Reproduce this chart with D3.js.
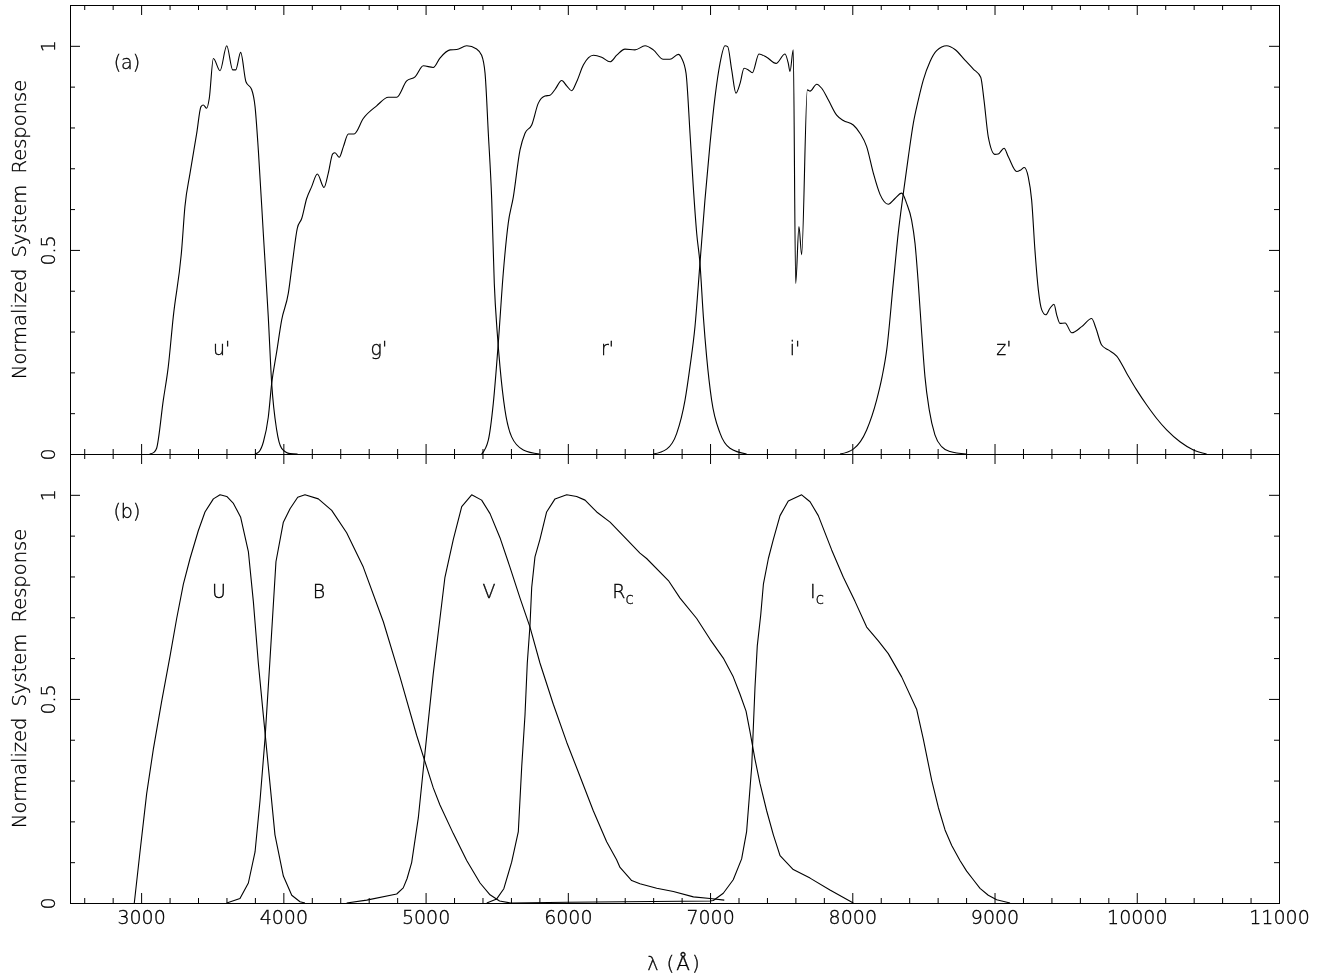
<!DOCTYPE html>
<html>
<head>
<meta charset="utf-8">
<script src="https://cdn.jsdelivr.net/npm/d3@7"></script>
<style>
  html, body { margin: 0; padding: 0; background: #fff; }
  svg { display: block; filter: grayscale(100%); }
  text { font-family: "DejaVu Sans", sans-serif; font-weight: 200; fill: #000; stroke: #000; stroke-width: 0.35px; }
</style>
</head>
<body>
<svg id="chart" width="1343" height="979"></svg>
<script>
// ---------------- data ----------------
const xTickLabels = [3000, 4000, 5000, 6000, 7000, 8000, 9000, 10000, 11000];
const yTickLabels = [0, 0.5, 1];
const panelLabels = ["(a)", "(b)"];
const yAxisTitle = "Normalized System Response";

// panel (a): SDSS u' g' r' i' z'   [wavelength Å, normalized response]
const uPrime = [[3060,0],[3090,0.004],[3109,0.014],[3156,0.132],[3191,0.214],[3226,0.336],[3285,0.5],[3308,0.606],[3344,0.688],[3391,0.786],[3421,0.851],[3437,0.855],[3461,0.847],[3479,0.871],[3508,0.969],[3555,0.939],[3602,1.0],[3644,0.941],[3665,0.941],[3700,0.984],[3737,0.912],[3777,0.893],[3801,0.851],[3824,0.745],[3859,0.541],[3894,0.336],[3918,0.173],[3953,0.059],[3988,0.014],[4047,0.001],[4100,0]];
const gPrime = [[3800,0],[3830,0.006],[3860,0.03],[3894,0.09],[3918,0.173],[3953,0.25],[3988,0.328],[4035,0.394],[4066,0.475],[4098,0.553],[4129,0.577],[4164,0.626],[4199,0.655],[4239,0.686],[4286,0.653],[4316,0.688],[4347,0.735],[4363,0.738],[4393,0.727],[4422,0.753],[4457,0.784],[4497,0.784],[4562,0.822],[4656,0.853],[4738,0.874],[4797,0.874],[4867,0.914],[4926,0.924],[4984,0.951],[5054,0.947],[5101,0.97],[5172,0.99],[5219,0.991],[5289,1.0],[5359,0.992],[5394,0.977],[5418,0.933],[5441,0.786],[5465,0.622],[5483,0.418],[5504,0.296],[5523,0.214],[5558,0.108],[5605,0.042],[5687,0.01],[5800,0]];
const rPrime = [[5394,0],[5441,0.034],[5476,0.124],[5511,0.271],[5546,0.443],[5581,0.565],[5617,0.63],[5664,0.745],[5699,0.786],[5746,0.806],[5792,0.859],[5839,0.877],[5875,0.879],[5910,0.893],[5957,0.915],[5992,0.902],[6027,0.89],[6062,0.912],[6109,0.953],[6180,0.977],[6238,0.972],[6297,0.961],[6344,0.977],[6402,0.992],[6472,0.99],[6543,1.0],[6601,0.99],[6671,0.967],[6718,0.967],[6777,0.979],[6801,0.969],[6831,0.933],[6859,0.786],[6882,0.655],[6906,0.541],[6929,0.467],[6953,0.336],[6976,0.238],[7011,0.132],[7070,0.051],[7140,0.014],[7257,0]];
const iPrime = [[6601,0],[6695,0.012],[6765,0.05],[6824,0.132],[6859,0.214],[6894,0.312],[6929,0.467],[6964,0.622],[7000,0.761],[7035,0.875],[7070,0.957],[7105,1.0],[7124,0.998],[7152,0.941],[7182,0.884],[7211,0.908],[7239,0.945],[7269,0.941],[7297,0.934],[7344,0.98],[7398,0.972],[7464,0.957],[7527,0.98],[7550,0.957],[7562,0.937],[7585,0.99],[7602,0.418],[7625,0.557],[7644,0.488],[7684,0.892],[7703,0.889],[7750,0.906],[7785,0.896],[7832,0.867],[7890,0.83],[7937,0.817],[8007,0.806],[8054,0.786],[8101,0.753],[8148,0.688],[8195,0.636],[8253,0.612],[8300,0.626],[8347,0.639],[8382,0.614],[8417,0.573],[8441,0.516],[8464,0.418],[8488,0.296],[8511,0.189],[8541,0.108],[8581,0.047],[8628,0.018],[8687,0.006],[8800,0]];
const zPrime = [[7914,0],[8007,0.012],[8101,0.059],[8171,0.132],[8210,0.19],[8242,0.255],[8288,0.418],[8323,0.541],[8359,0.639],[8394,0.728],[8429,0.81],[8464,0.867],[8499,0.916],[8546,0.961],[8593,0.988],[8664,1.0],[8722,0.991],[8792,0.965],[8851,0.943],[8903,0.923],[8926,0.867],[8956,0.777],[9003,0.734],[9026,0.735],[9067,0.749],[9097,0.728],[9156,0.692],[9184,0.696],[9209,0.702],[9237,0.679],[9261,0.622],[9284,0.5],[9308,0.402],[9332,0.353],[9360,0.341],[9390,0.357],[9418,0.367],[9437,0.341],[9460,0.32],[9496,0.321],[9543,0.297],[9613,0.312],[9683,0.332],[9713,0.308],[9753,0.267],[9800,0.255],[9859,0.24],[9929,0.198],[9999,0.157],[10070,0.12],[10140,0.087],[10210,0.059],[10304,0.03],[10398,0.01],[10491,0]];

// panel (b): Johnson-Cousins U B V Rc Ic
const johnsonU = [[2952,0],[2992,0.125],[3039,0.268],[3086,0.377],[3145,0.495],[3203,0.604],[3250,0.697],[3297,0.781],[3344,0.844],[3402,0.912],[3449,0.958],[3508,0.99],[3555,1.0],[3602,0.996],[3649,0.979],[3700,0.945],[3754,0.861],[3789,0.739],[3824,0.588],[3859,0.461],[3894,0.335],[3941,0.167],[4000,0.066],[4059,0.019],[4117,0.003],[4152,0]];
const johnsonB = [[3602,0],[3695,0.011],[3754,0.049],[3801,0.125],[3836,0.251],[3871,0.402],[3906,0.596],[3948,0.836],[4000,0.933],[4047,0.966],[4101,0.994],[4152,1.0],[4246,0.99],[4340,0.962],[4445,0.907],[4562,0.823],[4703,0.689],[4820,0.554],[4937,0.411],[5054,0.282],[5101,0.24],[5195,0.17],[5289,0.104],[5383,0.049],[5453,0.02],[5520,0.005],[5600,0]];
const johnsonV = [[4445,0],[4586,0.007],[4797,0.022],[4843,0.037],[4870,0.06],[4902,0.099],[4949,0.209],[4996,0.369],[5054,0.562],[5101,0.697],[5136,0.798],[5195,0.891],[5254,0.971],[5324,1.0],[5394,0.987],[5453,0.954],[5523,0.895],[5593,0.823],[5664,0.747],[5734,0.676],[5804,0.588],[5898,0.487],[5992,0.394],[6086,0.31],[6179,0.226],[6273,0.15],[6343,0.106],[6367,0.087],[6449,0.055],[6507,0.047],[6625,0.036],[6742,0.028],[6883,0.015],[7000,0.011],[7100,0.007]];
const cousinsR = [[5430,0],[5500,0.01],[5550,0.035],[5605,0.1],[5652,0.175],[5676,0.335],[5699,0.461],[5715,0.588],[5734,0.68],[5746,0.773],[5769,0.848],[5804,0.891],[5851,0.958],[5910,0.99],[5992,1.0],[6062,0.996],[6121,0.987],[6203,0.958],[6297,0.933],[6414,0.891],[6507,0.857],[6554,0.844],[6707,0.79],[6789,0.747],[6906,0.697],[7000,0.646],[7093,0.6],[7163,0.554],[7210,0.512],[7253,0.47],[7281,0.419],[7316,0.352],[7351,0.293],[7398,0.226],[7445,0.167],[7492,0.116],[7585,0.082],[7703,0.061],[7843,0.032],[8007,0]];
const cousinsI = [[5600,0],[6000,0.002],[7000,0.005],[7023,0.006],[7093,0.024],[7163,0.057],[7222,0.108],[7257,0.175],[7293,0.335],[7316,0.529],[7332,0.63],[7356,0.705],[7375,0.781],[7410,0.844],[7445,0.891],[7492,0.949],[7550,0.985],[7644,1.0],[7703,0.983],[7761,0.949],[7855,0.865],[7937,0.798],[8019,0.739],[8101,0.676],[8183,0.642],[8253,0.611],[8347,0.554],[8453,0.474],[8499,0.402],[8558,0.301],[8605,0.234],[8652,0.179],[8699,0.141],[8757,0.104],[8804,0.078],[8851,0.057],[8898,0.036],[8956,0.019],[9015,0.008],[9109,0]];

// filter labels: [text, subscript, wavelength, response]
const labelsA = [["u'", "", 3566, 0.243],["g'", "", 4672, 0.243],["r'", "", 6279, 0.243],["i'", "", 7597, 0.243],["z'", "", 9066, 0.243]];
const labelsB = [["U", "", 3548, 0.748],["B", "", 4251, 0.748],["V", "", 5446, 0.748],["R", "c", 6388, 0.748],["I", "c", 7752, 0.748]];

// ---------------- layout ----------------
const svg = d3.select("#chart");
const left = 70, right = 1279;
const x = d3.scaleLinear().domain([2500, 11000]).range([left, right]);
const yA = d3.scaleLinear().domain([0, 1.1]).range([454, 5]);
const yB = d3.scaleLinear().domain([0, 1.1]).range([903, 454]);

const xMinor = d3.range(2600, 11000, 200).filter(v => v % 1000 !== 0);
const xMajor = xTickLabels.filter(v => v < 11000);
const yMinor = d3.range(1, 11).map(i => i / 10).filter(v => v !== 0.5 && v !== 1);
const yMajor = [0.5, 1];

const FS = 19;

function drawPanel(y, curves, curveType, labels, panelLabel, showX) {
  const g = svg.append("g");
  // ticks
  const tickGroups = [
    [d3.axisTop(x).tickValues(xMinor).tickSize(5), `translate(0,${y(0)})`],
    [d3.axisTop(x).tickValues(xMajor).tickSize(10), `translate(0,${y(0)})`],
    [d3.axisBottom(x).tickValues(xMinor).tickSize(5), `translate(0,${y(1.1)})`],
    [d3.axisBottom(x).tickValues(xMajor).tickSize(10), `translate(0,${y(1.1)})`],
    [d3.axisRight(y).tickValues(yMinor).tickSize(5), `translate(${left},0)`],
    [d3.axisRight(y).tickValues(yMajor).tickSize(10), `translate(${left},0)`],
    [d3.axisLeft(y).tickValues(yMinor).tickSize(5), `translate(${right},0)`],
    [d3.axisLeft(y).tickValues(yMajor).tickSize(10), `translate(${right},0)`]
  ];
  tickGroups.forEach(([ax, tr]) => {
    const a = g.append("g").attr("transform", tr).call(ax.tickFormat("").tickSizeOuter(0));
    a.select(".domain").remove();
    a.selectAll("line").attr("stroke", "#000").attr("stroke-width", 1);
  });

  // frame
  g.append("rect")
    .attr("x", left + 0.5).attr("y", y(1.1) + 0.5)
    .attr("width", right - left).attr("height", y(0) - y(1.1))
    .attr("fill", "none").attr("stroke", "#000").attr("stroke-width", 1);

  // y labels (rotated)
  const yl = g.append("g").attr("transform", `translate(${left},0)`)
    .call(d3.axisLeft(y).tickValues(yTickLabels).tickSize(0).tickFormat(d3.format("")));
  yl.select(".domain").remove();
  yl.selectAll("text")
    .attr("transform", "rotate(-90)")
    .attr("x", 0).attr("y", -15).attr("dy", 0)
    .attr("text-anchor", "middle")
    .style("font-size", FS + "px")
    .style("font-family", "'DejaVu Sans', sans-serif");

  // y title
  g.append("text")
    .attr("transform", `translate(25.5,${(y(0) + y(1.1)) / 2}) rotate(-90)`)
    .attr("text-anchor", "middle")
    .style("font-size", "19.5px")
    .style("word-spacing", "5px")
    .text(yAxisTitle);

  // x labels
  if (showX) {
    const xl = g.append("g").attr("transform", `translate(0,${y(0)})`)
      .call(d3.axisBottom(x).tickValues(xTickLabels).tickSize(0).tickPadding(8).tickFormat(d3.format("")));
    xl.select(".domain").remove();
    xl.selectAll("text").style("font-size", FS + "px").style("font-family", "'DejaVu Sans', sans-serif");
  }

  // curves
  const line = d3.line().x(d => x(d[0])).y(d => y(d[1])).curve(curveType);
  curves.forEach(c => {
    g.append("path").datum(c).attr("d", line)
      .attr("fill", "none").attr("stroke", "#000").attr("stroke-width", 1.1)
      .attr("stroke-linejoin", "round");
  });

  // panel label
  g.append("text").attr("x", x(2900)).attr("y", y(0.944))
    .attr("text-anchor", "middle").style("font-size", FS + "px").text(panelLabel);

  // filter labels
  labels.forEach(([t, sub, wl, v]) => {
    const tx = g.append("text").attr("x", x(wl)).attr("y", y(v))
      .attr("text-anchor", "middle").style("font-size", FS + "px");
    tx.append("tspan").text(t);
    if (sub) tx.append("tspan").attr("dy", 6).style("font-size", "15px").text(sub);
  });
}

drawPanel(yA, [uPrime, gPrime, rPrime, iPrime, zPrime], d3.curveMonotoneX, labelsA, panelLabels[0], false);
drawPanel(yB, [johnsonU, johnsonB, johnsonV, cousinsR, cousinsI], d3.curveLinear, labelsB, panelLabels[1], true);

// x axis title
const xt = svg.append("text").attr("x", (left + right) / 2).attr("y", 970)
  .attr("text-anchor", "middle").style("font-size", FS + "px");
xt.append("tspan").text("λ ");
xt.append("tspan").attr("dx", 2).style("font-size", "20px").style("letter-spacing", "2px").text("(Å)");
</script>
</body>
</html>
